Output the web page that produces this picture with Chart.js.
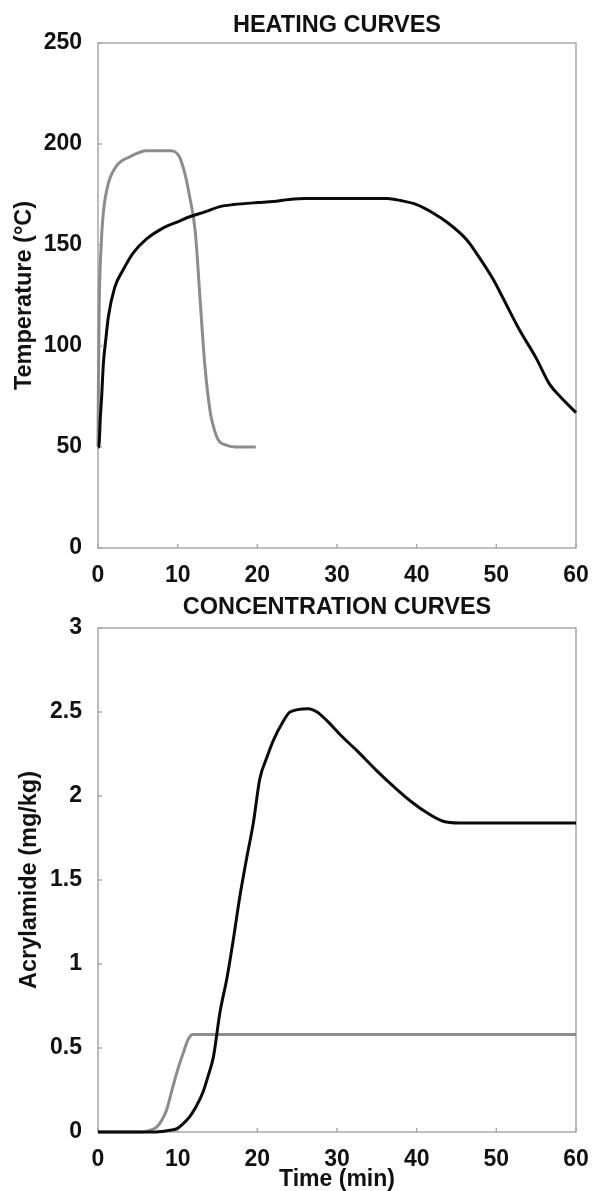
<!DOCTYPE html>
<html>
<head>
<meta charset="utf-8">
<script src="https://cdn.jsdelivr.net/npm/chart.js@4.4.0/dist/chart.umd.min.js"></script>
<style>
	body { margin: 0; background: #fff; }
	.panel { position: relative; width: 595px; }
</style>
</head>
<body>
<div class="panel" style="height:590px"><canvas id="heatChart" width="595" height="590"></canvas></div>
<div class="panel" style="height:601px"><canvas id="concChart" width="595" height="601"></canvas></div>
<script>
const timeTicks = [0, 10, 20, 30, 40, 50, 60];
const tempTicks = [0, 50, 100, 150, 200, 250];
const concTicks = [0, 0.5, 1, 1.5, 2, 2.5, 3];

// heating curves, black = slow, grey = fast
const slowHeatTime = [0, 0.1, 0.3, 0.46, 0.67, 1, 1.3, 2.1, 3.2, 4.4, 6.1, 8.2, 10, 11.5, 13.5, 15.3, 17, 20, 22, 24, 26, 30, 34, 36.3, 38, 40, 42, 43.9, 46.3, 48, 49.6, 50.8, 52.9, 55, 56.7, 58, 60];
const slowHeatTemp = [50, 50, 65, 75, 91, 104, 114.5, 129, 138, 146, 153, 158.5, 161.5, 164, 166.5, 169, 170, 171, 171.5, 172.5, 173, 173, 173, 173, 172, 170, 166, 161, 152.5, 143, 133, 124, 108, 94, 81, 75, 67];
const fastHeatTime = [0, 0.05, 0.15, 0.4, 0.67, 1.3, 2.3, 4, 6.1, 9, 10.1, 10.9, 11.5, 12.2, 12.8, 13.4, 14.1, 14.5, 15.1, 16, 17.2, 19.8];
const fastHeatTemp = [50, 80, 120, 150, 166, 180.5, 189, 193.7, 196.7, 196.7, 194.5, 185.5, 174, 157, 124, 91, 67, 60, 53.5, 51, 50, 50];

// concentration curves
const slowConcTime = [0, 6.5, 8, 9, 9.9, 10.7, 11.5, 12.3, 13.2, 13.8, 14.5, 15.3, 16.2, 17, 17.8, 18.7, 19.5, 20.3, 21.2, 22, 23.2, 24.1, 26.4, 27.5, 28.7, 30.5, 32.5, 35, 37.5, 39.5, 41.3, 43.3, 45.4, 60];
const slowConcValue = [0, 0, 0.003, 0.01, 0.02, 0.05, 0.09, 0.15, 0.24, 0.33, 0.45, 0.71, 0.92, 1.15, 1.4, 1.64, 1.84, 2.1, 2.23, 2.33, 2.44, 2.5, 2.52, 2.5, 2.45, 2.36, 2.27, 2.15, 2.04, 1.96, 1.9, 1.85, 1.84, 1.84];
const fastConcTime = [0, 5.5, 6.5, 7.4, 8, 8.6, 9.4, 10, 10.7, 11.3, 11.9, 60];
const fastConcValue = [0, 0, 0.01, 0.03, 0.07, 0.13, 0.27, 0.37, 0.47, 0.55, 0.58, 0.58];

const FONT = "'Liberation Sans', Arial, sans-serif";
const BLACK = "#0a0a0a";
const GREY = "#8c8c8c";

function toPoints(xs, ys) {
	return xs.map((x, i) => ({ x: x, y: ys[i] }));
}

/*frame round the plot plus small inward ticks*/
const framePlugin = {
	id: "frame",
	beforeDatasetsDraw(chart) {
		const { ctx, chartArea: a, scales } = chart;
		ctx.save();
		ctx.strokeStyle = "#a8a8a8";
		ctx.lineWidth = 1.5;
		ctx.strokeRect(a.left, a.top, a.right - a.left, a.bottom - a.top);
		ctx.beginPath();
		scales.x.ticks.forEach((t) => {
			const px = scales.x.getPixelForValue(t.value);
			ctx.moveTo(px, a.bottom);
			ctx.lineTo(px, a.bottom - 4);
		});
		scales.y.ticks.forEach((t) => {
			const py = scales.y.getPixelForValue(t.value);
			ctx.moveTo(a.left, py);
			ctx.lineTo(a.left + 4, py);
		});
		ctx.stroke();
		ctx.restore();
	},
};

function line(data, color) {
	return {
		data: data,
		borderColor: color,
		borderWidth: 3,
		pointRadius: 0,
		cubicInterpolationMode: "monotone",
		clip: false,
	};
}

function makeOptions(cfg) {
	return {
		responsive: false,
		animation: false,
		layout: { padding: { left: 0, right: 19, top: 0, bottom: 0 } },
		plugins: {
			legend: { display: false },
			tooltip: { enabled: false },
			title: {
				display: true,
				text: cfg.title,
				fullSize: false,
				color: "#111",
				font: { family: FONT, size: 23.5, weight: "bold", lineHeight: 1.2 },
				padding: cfg.titlePad,
			},
		},
		scales: {
			x: {
				type: "linear",
				min: 0,
				max: 60,
				grid: { display: false },
				border: { display: false },
				afterBuildTicks: (s) => { s.ticks = timeTicks.map((v) => ({ value: v })); },
				afterFit: (s) => { s.height = cfg.xHeight; },
				ticks: {
					color: "#111",
					padding: 6,
					maxRotation: 0,
					font: { family: FONT, size: 23, weight: "bold" },
					callback: (v) => String(v),
				},
				title: {
					display: !!cfg.xTitle,
					text: cfg.xTitle || "",
					color: "#111",
					font: { family: FONT, size: 23, weight: "bold", lineHeight: 1 },
					padding: { top: 0, bottom: 0 },
				},
			},
			y: {
				type: "linear",
				min: 0,
				max: cfg.yMax,
				grid: { display: false },
				border: { display: false },
				afterBuildTicks: (s) => { s.ticks = cfg.yTicks.map((v) => ({ value: v })); },
				afterFit: (s) => { s.width = 98; },
				ticks: {
					color: "#111",
					padding: 8,
					font: { family: FONT, size: 23, weight: "bold" },
					callback: (v) => String(v),
				},
				title: {
					display: true,
					text: cfg.yTitle,
					color: "#111",
					font: { family: FONT, size: 23.5, weight: "bold", lineHeight: 1.2 },
					padding: { top: cfg.yTitlePad, bottom: 0 },
				},
			},
		},
	};
}

new Chart(document.getElementById("heatChart"), {
	type: "line",
	data: {
		datasets: [
			line(toPoints(slowHeatTime, slowHeatTemp), BLACK),
			line(toPoints(fastHeatTime, fastHeatTemp), GREY),
		],
	},
	options: makeOptions({
		title: "HEATING CURVES",
		titlePad: { top: 11, bottom: 3.8 },
		xHeight: 42,
		yTicks: tempTicks,
		yMax: 250,
		yTitle: "Temperature (°C)",
		yTitlePad: 10.5,
	}),
	plugins: [framePlugin],
});

new Chart(document.getElementById("concChart"), {
	type: "line",
	data: {
		datasets: [
			line(toPoints(slowConcTime, slowConcValue), BLACK),
			line(toPoints(fastConcTime, fastConcValue), GREY),
		],
	},
	options: makeOptions({
		title: "CONCENTRATION CURVES",
		titlePad: { top: 3.9, bottom: 5.9 },
		xHeight: 59,
		xTitle: "Time (min)",
		yTicks: concTicks,
		yMax: 3,
		yTitle: "Acrylamide (mg/kg)",
		yTitlePad: 15.5,
	}),
	plugins: [framePlugin],
});
</script>
</body>
</html>
